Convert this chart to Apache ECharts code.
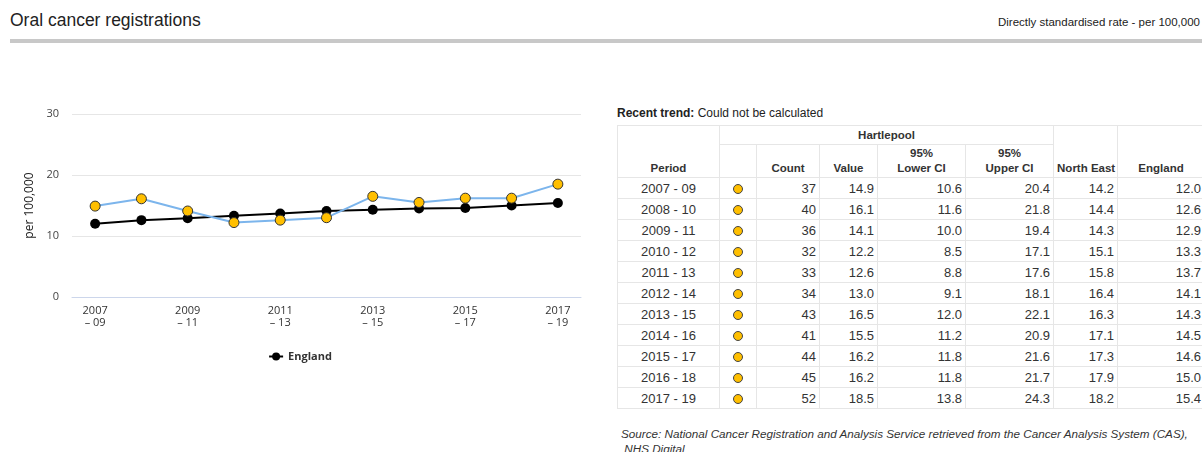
<!DOCTYPE html>
<html>
<head>
<meta charset="utf-8">
<script src="https://cdn.jsdelivr.net/npm/echarts@6/dist/echarts.min.js"></script>
<style>
  body { margin: 0; background: #fff; font-family: 'Liberation Sans', Arial, sans-serif; color: #333; }
  .title { position: absolute; left: 10px; top: 10px; font-size: 17.5px; line-height: 20px; color: #222; }
  .unit { position: absolute; right: 2px; top: 15px; font-size: 11.5px; line-height: 14px; color: #222; }
  .rule { position: absolute; left: 10px; right: 0; top: 39px; height: 4px; background: #c8c8c8; }
  #chart { position: absolute; left: 0; top: 90px; width: 600px; height: 290px; }
  .trend { position: absolute; left: 617px; top: 105px; font-size: 12px; line-height: 16px; color: #222; }
  table { position: absolute; left: 617px; top: 125px; border-collapse: collapse; table-layout: fixed; width: 587px; }
  th, td { border: 1px solid #e6e6e6; padding: 0 3px; color: #333; white-space: nowrap; }
  th { font-size: 11.5px; font-weight: bold; line-height: 15px; vertical-align: bottom; padding-bottom: 1px; text-align: center; }
  tr.h1 th { height: 18px; }
  tr.h1 th.group { vertical-align: middle; padding-bottom: 0; }
  tr.h2 th { height: 31px; }
  td { font-size: 13px; height: 20px; text-align: right; }
  td.period { text-align: center; }
  td.dot { text-align: center; }
  .dot span { display: inline-block; width: 8px; height: 8px; border-radius: 50%; background: #ffbf00; border: 1px solid #444; vertical-align: -1px; }
  .source { position: absolute; left: 621px; top: 426px; font-size: 11.7px; line-height: 15px; font-style: italic; color: #333; white-space: nowrap; }
</style>
</head>
<body>
<div class="title">Oral cancer registrations</div>
<div class="unit">Directly standardised rate - per 100,000</div>
<div class="rule"></div>
<div id="chart"></div>
<div class="trend"><b>Recent trend:</b> Could not be calculated</div>
<table id="tbl">
  <colgroup>
    <col style="width:102px"><col style="width:37px"><col style="width:63px"><col style="width:58px">
    <col style="width:88px"><col style="width:88px"><col style="width:64px"><col style="width:87px">
  </colgroup>
  <thead>
    <tr class="h1"><th rowspan="2">Period</th><th colspan="5" class="group">Hartlepool</th><th rowspan="2">North East</th><th rowspan="2">England</th></tr>
    <tr class="h2"><th></th><th>Count</th><th>Value</th><th>95%<br>Lower CI</th><th>95%<br>Upper CI</th></tr>
  </thead>
  <tbody id="rows"></tbody>
</table>
<div class="source">Source: National Cancer Registration and Analysis Service retrieved from the Cancer Analysis System (CAS),<br>&nbsp;NHS Digital</div>

<script>
const periods = ['2007 - 09', '2008 - 10', '2009 - 11', '2010 - 12', '2011 - 13', '2012 - 14',
  '2013 - 15', '2014 - 16', '2015 - 17', '2016 - 18', '2017 - 19']
const counts = [37, 40, 36, 32, 33, 34, 43, 41, 44, 45, 52]
const hartlepool = [14.9, 16.1, 14.1, 12.2, 12.6, 13.0, 16.5, 15.5, 16.2, 16.2, 18.5]
const lowerCI = [10.6, 11.6, 10.0, 8.5, 8.8, 9.1, 12.0, 11.2, 11.8, 11.8, 13.8]
const upperCI = [20.4, 21.8, 19.4, 17.1, 17.6, 18.1, 22.1, 20.9, 21.6, 21.7, 24.3]
const northEast = [14.2, 14.4, 14.3, 15.1, 15.8, 16.4, 16.3, 17.1, 17.3, 17.9, 18.2]
const england = [12.0, 12.6, 12.9, 13.3, 13.7, 14.1, 14.3, 14.5, 14.6, 15.0, 15.4]

// table
const tbody = document.getElementById('rows')
periods.forEach((p, i) => {
  const tr = document.createElement('tr')
  tr.innerHTML =
    '<td class="period">' + p + '</td>' +
    '<td class="dot"><span></span></td>' +
    '<td>' + counts[i] + '</td>' +
    '<td>' + hartlepool[i].toFixed(1) + '</td>' +
    '<td>' + lowerCI[i].toFixed(1) + '</td>' +
    '<td>' + upperCI[i].toFixed(1) + '</td>' +
    '<td>' + northEast[i].toFixed(1) + '</td>' +
    '<td>' + england[i].toFixed(1) + '</td>'
  tbody.appendChild(tr)
})

// chart
const chart = echarts.init(document.getElementById('chart'))
const font = "'Open Sans', sans-serif"
chart.setOption({
  animation: false,
  grid: { left: 72, right: 19, top: 24, height: 183 },
  legend: {
    data: ['England'],
    left: 'center',
    top: 256,
    itemWidth: 14,
    itemHeight: 10,
    textStyle: { fontFamily: font, fontSize: 11, fontWeight: 'bold', color: '#333' }
  },
  xAxis: {
    type: 'category',
    data: periods,
    axisLine: { lineStyle: { color: '#ccd6eb' } },
    axisTick: { alignWithLabel: true, interval: 0, length: 5, lineStyle: { color: '#ccd6eb' } },
    axisLabel: {
      interval: 1,
      margin: 8,
      fontFamily: font,
      fontSize: 11,
      lineHeight: 12,
      color: '#333',
      formatter: v => v.replace(' - ', '\n– ')
    }
  },
  yAxis: {
    type: 'value',
    min: 0,
    max: 30,
    interval: 10,
    name: 'per 100,000',
    nameLocation: 'middle',
    nameGap: 32,
    nameTextStyle: { fontFamily: font, fontSize: 12, color: '#222' },
    axisLabel: { margin: 13, fontFamily: font, fontSize: 11, color: '#444' },
    splitLine: { lineStyle: { color: '#e6e6e6' } }
  },
  series: [
    {
      name: 'England',
      type: 'line',
      data: england,
      symbol: 'circle',
      symbolSize: 10,
      lineStyle: { color: '#000', width: 2 },
      itemStyle: { color: '#000' }
    },
    {
      name: 'Hartlepool',
      type: 'line',
      data: hartlepool,
      symbol: 'circle',
      symbolSize: 10,
      lineStyle: { color: '#7cb5ec', width: 2 },
      itemStyle: { color: '#ffbf00', borderColor: '#333', borderWidth: 1 }
    }
  ]
})
</script>
</body>
</html>
